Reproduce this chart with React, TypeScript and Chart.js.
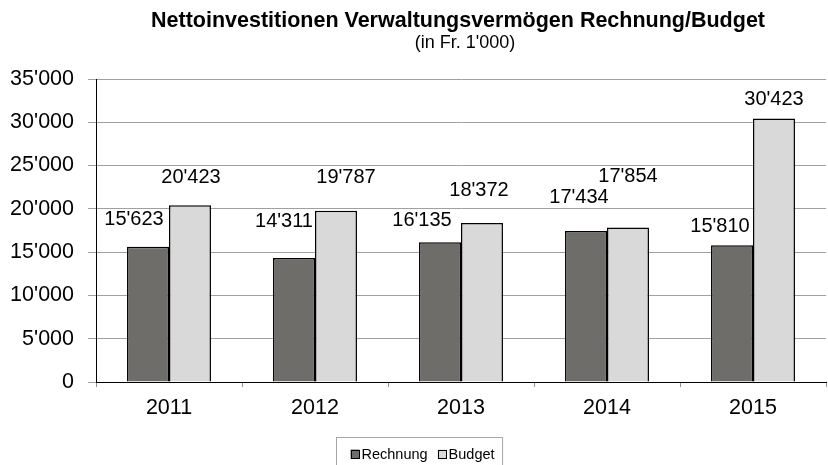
import React, { useEffect, useRef } from "react";
import { Chart, registerables } from "chart.js";

Chart.register(...registerables);

const categories = ["2011", "2012", "2013", "2014", "2015"];
const rechnung = [15623, 14311, 16135, 17434, 15810];
const budget = [20423, 19787, 18372, 17854, 30423];
const seriesNames = ["Rechnung", "Budget"];
const yTicks = [0, 5000, 10000, 15000, 20000, 25000, 30000, 35000];
const titleText = "Nettoinvestitionen Verwaltungsvermögen Rechnung/Budget";
const subtitleText = "(in Fr. 1'000)";

// label nudges (style): offset from bar top-center
const labelNudge = [
  [[-14, -22], [-10, -31], [-18, -16], [-7, -28], [-12, -13]],
  [[1, -22], [10, -28], [-3, -27], [0, -45], [0, -14]],
];

const FONT = '"Liberation Sans", Arial, Helvetica, sans-serif';
const COLORS = ["#6e6d69", "#d9d9d9"];

const fmt = (v: number) => {
  const s = Math.round(v).toString();
  return s.replace(/\B(?=(\d{3})+(?!\d))/g, "'");
};

const overlayPlugin = {
  id: "overlay",
  afterDatasetsDraw(chart: any) {
    const ctx = chart.ctx;
    const area = chart.chartArea;
    ctx.save();
    // data labels
    ctx.fillStyle = "#000";
    ctx.font = `20px ${FONT}`;
    ctx.textAlign = "center";
    ctx.textBaseline = "alphabetic";
    chart.data.datasets.forEach((ds: any, di: number) => {
      const meta = chart.getDatasetMeta(di);
      meta.data.forEach((el: any, i: number) => {
        const [dx, dy] = labelNudge[di][i];
        ctx.fillText(fmt(ds.data[i]), el.x + dx, el.y + dy);
      });
    });
    // title
    const cx = (area.left + area.right) / 2;
    ctx.font = `bold 21.5px ${FONT}`;
    ctx.fillText(titleText, cx - 3, 27);
    ctx.font = `18px ${FONT}`;
    ctx.fillText(subtitleText, cx + 4, 48);
    // legend
    ctx.font = `14.5px ${FONT}`;
    const box = 9;
    const gapMarker = 2;
    const gapItem = 10;
    const padL = 14;
    const padR = 8;
    let w = padL + padR;
    seriesNames.forEach((n, i) => {
      w += box + gapMarker + ctx.measureText(n).width + (i < seriesNames.length - 1 ? gapItem : 0);
    });
    const lx = Math.round(419 - w / 2) + 0.5;
    const ly = 437.5;
    ctx.strokeStyle = "#a6a6a6";
    ctx.lineWidth = 1;
    ctx.strokeRect(lx, ly, w, 40);
    let x = lx + padL;
    const my = 454;
    ctx.textAlign = "left";
    ctx.textBaseline = "middle";
    seriesNames.forEach((n, i) => {
      ctx.fillStyle = COLORS[i];
      ctx.fillRect(x, my - box / 2, box, box);
      ctx.strokeStyle = "#000";
      ctx.strokeRect(Math.round(x) + 0.5, Math.round(my - box / 2) + 0.5, box - 1, box - 1);
      x += box + gapMarker;
      ctx.fillStyle = "#000";
      ctx.fillText(n, x, my + 1);
      x += ctx.measureText(n).width + gapItem;
    });
    ctx.restore();
  },
};

export default function App() {
  const ref = useRef<HTMLCanvasElement>(null);
  useEffect(() => {
    document.body.style.margin = "0";
    Chart.defaults.font.family = FONT;
    const chart = new Chart(ref.current as HTMLCanvasElement, {
      type: "bar",
      data: {
        labels: categories,
        datasets: [
          {
            label: seriesNames[0],
            data: rechnung,
            backgroundColor: COLORS[0],
            borderColor: "#000",
            borderWidth: 1.5,
            categoryPercentage: 0.575,
            barPercentage: 1,
          },
          {
            label: seriesNames[1],
            data: budget,
            backgroundColor: COLORS[1],
            borderColor: "#000",
            borderWidth: 1.5,
            categoryPercentage: 0.575,
            barPercentage: 1,
          },
        ],
      },
      options: {
        responsive: false,
        animation: false,
        devicePixelRatio: 1,
        layout: { padding: { top: 79, right: 2, left: 0, bottom: 43 } },
        plugins: {
          legend: { display: false },
          title: { display: false },
          tooltip: { enabled: false },
        },
        scales: {
          x: {
            afterFit(scale: any) {
              scale.height = 40;
            },
            grid: {
              display: true,
              offset: true,
              drawOnChartArea: false,
              tickLength: 5,
              color: "#909090",
            },
            border: { display: true, color: "#000", width: 1 },
            ticks: {
              color: "#000",
              font: { size: 21.5, family: FONT },
              padding: 8,
            },
          },
          y: {
            min: 0,
            max: 35000,
            afterFit(scale: any) {
              scale.width = 96;
            },
            afterBuildTicks(scale: any) {
              scale.ticks = yTicks.map((v) => ({ value: v }));
            },
            grid: {
              color: "#a0a0a0",
              lineWidth: 1,
              tickLength: 8,
            },
            border: { display: true, color: "#000", width: 1 },
            ticks: {
              color: "#000",
              font: { size: 21.5, family: FONT },
              padding: 14,
              callback: (v: any) => fmt(Number(v)),
            },
          },
        },
      },
      plugins: [overlayPlugin],
    });
    return () => chart.destroy();
  }, []);
  return (
    <div style={{ position: "absolute", left: 0, top: 0, width: 828, height: 465 }}>
      <canvas ref={ref} width={828} height={465} />
    </div>
  );
}
